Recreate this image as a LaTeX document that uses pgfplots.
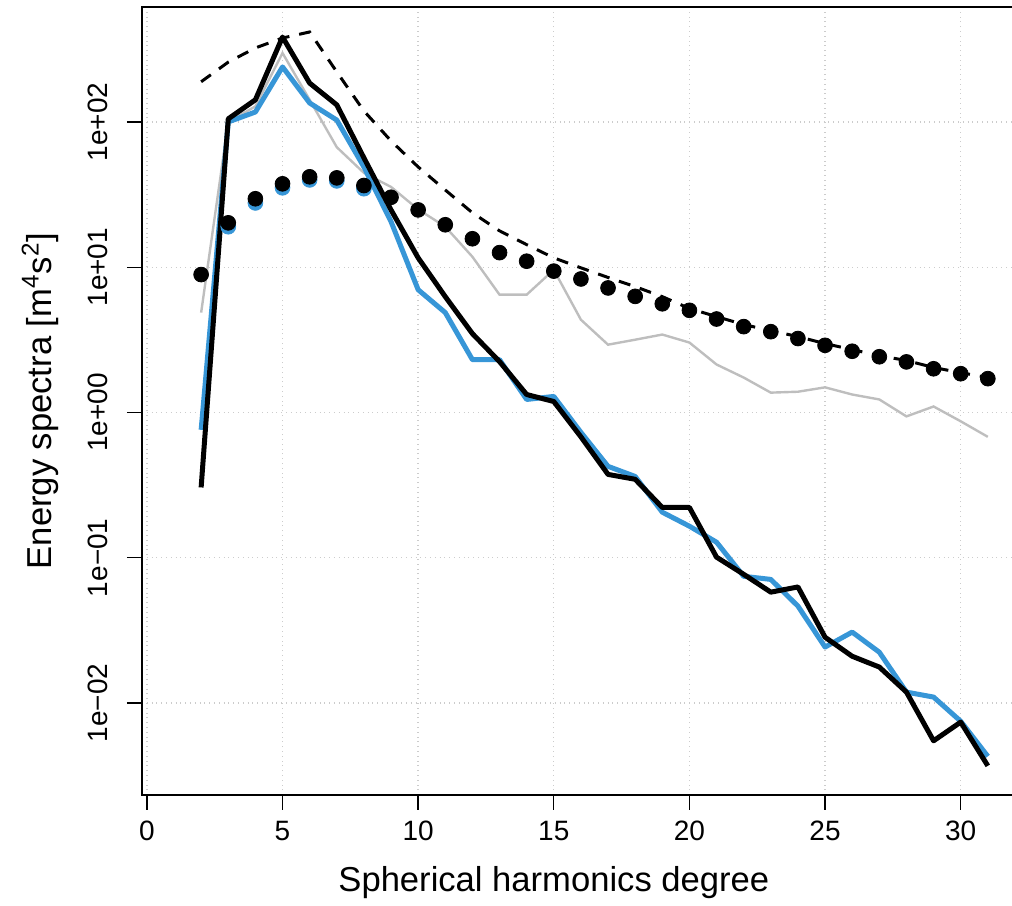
\documentclass[border=0pt]{standalone}
\usepackage{fontspec}
\setmainfont{Liberation Sans}
\usepackage{pgfplots}
\usepackage{pgfplotstable}
\pgfplotsset{compat=1.18}

\definecolor{specblue}{RGB}{55,150,215}
\definecolor{specgray}{RGB}{190,190,190}

% degree, black line, blue line, grey line, dots, dashed
\pgfplotstableread{
n  blk     blu     gry    dot   dsh
2  0.305   0.76    4.87   8.9   189
3  105     100     100    20.2  258
4  142     117     128    29.6  323
5  384     239     298    37.5  378
6  185     135     142    41.9  416
7  131     103     67     41.2  221
8  56.6    49      44.6   36.5  119
9  24.8    20.6    35.7   30.3  74
10 11.6    7.0     25     24.8  49
11 6.27    4.87    19     19.6  34
12 3.49    2.31    11.8   15.7  23.7
13 2.24    2.31    6.47   12.6  17.8
14 1.33    1.23    6.47   11.0  14.3
15 1.19    1.29    9.6    9.4   11.6
16 0.68    0.73    4.35   8.3   9.9
17 0.375   0.426   2.93   7.2   8.5
18 0.347   0.363   3.17   6.3   7.35
19 0.222   0.206   3.44   5.6   6.27
20 0.222   0.165   3.03   5.05  5.2
21 0.101   0.128   2.14   4.4   4.57
22 0.077   0.0746  1.74   3.9   4.03
23 0.058   0.071   1.37   3.6   3.66
24 0.063   0.0465  1.39   3.23  3.33
25 0.0284  0.0243  1.49   2.9   2.98
26 0.021   0.0308  1.33   2.64  2.71
27 0.0177  0.0224  1.23   2.42  2.46
28 0.0119  0.0119  0.94   2.23  2.28
29 0.0055  0.011   1.10   2.0   2.04
30 0.0074  0.0075  0.87   1.85  1.88
31 0.0037  0.0043  0.68   1.71  1.74
}\spectra

\begin{document}
\begin{tikzpicture}
\begin{axis}[
    scale only axis,
    width=440pt, height=394pt,
    xmin=-0.18, xmax=32.26,
    ymode=log, ymin=0.00233, ymax=618,
    xtick={0,5,...,30},
    ytick={0.01,0.1,1,10,100},
    yticklabels={1e−02,1e−01,1e+00,1e+01,1e+02},
    yminorticks=false,
    xtick pos=bottom, ytick pos=left,
    tick align=outside,
    major tick length=7.5pt,
    tick style={black, line width=0.7pt},
    axis line style={line width=0.8pt},
    grid=major,
    major grid style={dotted, line width=0.7pt, gray!40},
    /pgf/number format/assume math mode=true,
    tick label style={font=\fontsize{14}{16}\selectfont},
    yticklabel style={rotate=90, anchor=south},
    yticklabel shift=6pt,
    xticklabel shift=2pt,
    label style={font=\fontsize{17.3}{20}\selectfont},
    xlabel={Spherical harmonics degree},
    ylabel={Energy spectra [m\textsuperscript{4}s\textsuperscript{2}]},
    xlabel style={at={(axis description cs:0.468,0)}, anchor=center, yshift=-44pt},
    ylabel style={at={(axis description cs:-0.116,0.5)}, anchor=center},
]
\addplot[specgray, line width=1.2pt] table[x=n, y=gry] {\spectra};
\addplot[specblue, line width=2.5pt, line join=round] table[x=n, y=blu] {\spectra};
\addplot[black, line width=2.5pt, line join=round] table[x=n, y=blk] {\spectra};
\addplot[only marks, mark=*, mark size=3.7pt, specblue] coordinates {
    (3,19.0) (4,27.7) (5,35.2) (6,39.9) (7,39.3) (8,34.7)
};
\addplot[only marks, mark=*, mark size=3.7pt, black] table[x=n, y=dot] {\spectra};
\addplot[black, line width=1.5pt, dash pattern=on 6pt off 5pt] table[x=n, y=dsh] {\spectra};
\end{axis}
\pgfresetboundingbox
\path ([shift={(-71pt,-55pt)}]current axis.south west) rectangle ([shift={(-5pt,3.5pt)}]current axis.north east);
\end{tikzpicture}
\end{document}
